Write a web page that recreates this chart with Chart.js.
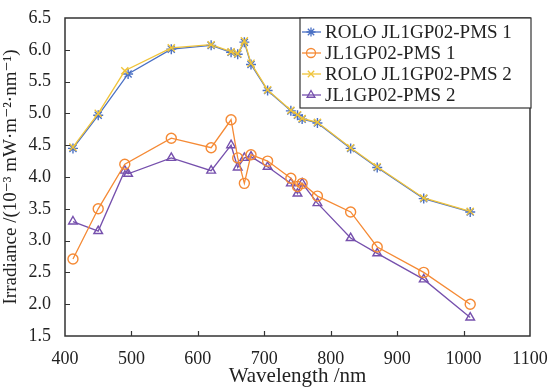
<!DOCTYPE html>
<html>
<head>
<meta charset="utf-8">
<script src="https://cdn.jsdelivr.net/npm/chart.js@4.4.1/dist/chart.umd.min.js"></script>
<style>
  html, body { margin: 0; padding: 0; background: #fff; }
  #wrap { width: 558px; height: 389px; }
</style>
</head>
<body>
<div id="wrap"><canvas id="irrChart"></canvas></div>
<script>
// wavelengths (nm) and irradiance (10^-3 mW m^-2 nm^-1)
const rolo1Wl = [412, 450, 495, 560, 620, 650, 660, 670, 680, 705, 740, 750, 757, 780, 830, 870, 940, 1010];
const rolo1Val = [4.45, 4.97, 5.62, 6.01, 6.07, 5.96, 5.93, 6.12, 5.77, 5.36, 5.04, 4.97, 4.91, 4.85, 4.45, 4.15, 3.66, 3.45];

const pms1Wl = [412, 450, 490, 560, 620, 650, 660, 670, 680, 705, 740, 750, 757, 780, 830, 870, 940, 1010];
const pms1Val = [2.71, 3.50, 4.20, 4.61, 4.46, 4.90, 4.30, 3.90, 4.35, 4.25, 3.98, 3.85, 3.90, 3.70, 3.45, 2.90, 2.50, 2.00];

const rolo2Wl = [412, 450, 490, 560, 620, 650, 660, 670, 680, 705, 740, 750, 757, 780, 830, 870, 940, 1010];
const rolo2Val = [4.47, 5.00, 5.67, 6.03, 6.08, 5.97, 5.94, 6.14, 5.79, 5.37, 5.05, 4.98, 4.92, 4.86, 4.46, 4.16, 3.67, 3.46];

const pms2Wl = [412, 450, 490, 495, 560, 620, 650, 660, 670, 680, 705, 740, 750, 757, 780, 830, 870, 940, 1010];
const pms2Val = [3.30, 3.15, 4.10, 4.05, 4.30, 4.10, 4.50, 4.15, 4.30, 4.32, 4.16, 3.90, 3.74, 3.90, 3.59, 3.04, 2.80, 2.39, 1.79];

const seriesNames = ['ROLO JL1GP02-PMS 1', 'JL1GP02-PMS 1', 'ROLO JL1GP02-PMS 2', 'JL1GP02-PMS 2'];
const xTicks = [400, 500, 600, 700, 800, 900, 1000, 1100];
const yTicks = [1.5, 2.0, 2.5, 3.0, 3.5, 4.0, 4.5, 5.0, 5.5, 6.0, 6.5];

const toPts = (xs, ys) => xs.map((x, i) => ({ x: x, y: ys[i] }));

const serif = 'Liberation Serif, DejaVu Serif, serif';
const ink = '#222';

function series(name, xs, ys, color, style, order) {
  return {
    label: name,
    data: toPts(xs, ys),
    order: order,
    showLine: true,
    borderColor: color,
    backgroundColor: 'rgba(0,0,0,0)',
    borderWidth: 1.3,
    pointStyle: style,
    pointRadius: 5,
    pointBorderWidth: 1.4,
    pointBorderColor: color,
    pointBackgroundColor: 'rgba(0,0,0,0)'
  };
}

// box round the plot, inward ticks and the boxed legend
const frame = {
  id: 'frame',
  afterDatasetsDraw(chart) {
    const { ctx, chartArea: a, scales } = chart;
    ctx.save();
    ctx.strokeStyle = '#333';
    ctx.lineWidth = 1.5;
    ctx.strokeRect(a.left, a.top, a.right - a.left, a.bottom - a.top);

    ctx.lineWidth = 1.2;
    ctx.beginPath();
    xTicks.slice(1, -1).forEach(v => {
      const px = Math.round(scales.x.getPixelForValue(v)) + 0.5;
      ctx.moveTo(px, a.bottom);
      ctx.lineTo(px, a.bottom - 5);
    });
    yTicks.slice(1, -1).forEach(v => {
      const py = Math.round(scales.y.getPixelForValue(v)) + 0.5;
      ctx.moveTo(a.left, py);
      ctx.lineTo(a.left + 5, py);
    });
    ctx.stroke();

    // legend
    const lx = 300, ly = a.top, lw = a.right + 1 - lx, lh = 90;
    ctx.fillStyle = '#fff';
    ctx.fillRect(lx, ly, lw, lh);
    ctx.lineWidth = 1.2;
    ctx.strokeStyle = '#333';
    ctx.strokeRect(lx, ly, lw, lh);
    chart.data.datasets.forEach((ds, i) => {
      const y = ly + 14 + i * 21;
      ctx.strokeStyle = ds.borderColor;
      ctx.lineWidth = 1.3;
      ctx.beginPath();
      ctx.moveTo(lx + 2, y);
      ctx.lineTo(lx + 21, y);
      ctx.stroke();
      ctx.fillStyle = 'rgba(0,0,0,0)';
      Chart.helpers.drawPoint(ctx, {
        pointStyle: ds.pointStyle, radius: 4.5, borderWidth: 1.4, rotation: 0
      }, lx + 11, y);
      ctx.fillStyle = ink;
      ctx.font = '19px ' + serif;
      ctx.textBaseline = 'middle';
      ctx.textAlign = 'left';
      ctx.fillText(ds.label, lx + 25, y + 1);
    });
    ctx.restore();
  }
};

const ctx = document.getElementById('irrChart');

new Chart(ctx, {
  type: 'scatter',
  data: {
    datasets: [
      series(seriesNames[0], rolo1Wl, rolo1Val, '#4a70c4', 'star', 2),
      series(seriesNames[1], pms1Wl, pms1Val, '#f58a35', 'circle', 3),
      series(seriesNames[2], rolo2Wl, rolo2Val, '#f0c43a', 'crossRot', 1),
      series(seriesNames[3], pms2Wl, pms2Val, '#7650ad', 'triangle', 4)
    ]
  },
  options: {
    responsive: true,
    maintainAspectRatio: false,
    animation: false,
    layout: { padding: { top: 18, right: 28, left: 0, bottom: 0 } },
    plugins: {
      legend: { display: false },
      tooltip: { enabled: false }
    },
    scales: {
      x: {
        type: 'linear',
        min: 400,
        max: 1100,
        afterBuildTicks: s => { s.ticks = xTicks.map(v => ({ value: v })); },
        afterFit: s => { s.height = 53; },
        grid: { display: false },
        border: { display: false },
        ticks: {
          color: ink,
          padding: 4,
          maxRotation: 0,
          callback: v => String(v),
          font: { family: serif, size: 18 }
        },
        title: {
          display: true,
          text: 'Wavelength /nm',
          color: ink,
          padding: { top: 0, bottom: 0 },
          font: { family: serif, size: 21 }
        }
      },
      y: {
        min: 1.5,
        max: 6.5,
        afterBuildTicks: s => { s.ticks = yTicks.map(v => ({ value: v })); },
        afterFit: s => { s.width = 65; },
        grid: { display: false },
        border: { display: false },
        ticks: {
          color: ink,
          padding: 6,
          callback: v => v.toFixed(1),
          font: { family: serif, size: 18 }
        },
        title: {
          display: true,
          text: 'Irradiance /(10⁻³ mW·m⁻²·nm⁻¹)',
          color: ink,
          padding: { top: 0, bottom: 2 },
          font: { family: serif, size: 19 }
        }
      }
    }
  },
  plugins: [frame]
});
</script>
</body>
</html>
